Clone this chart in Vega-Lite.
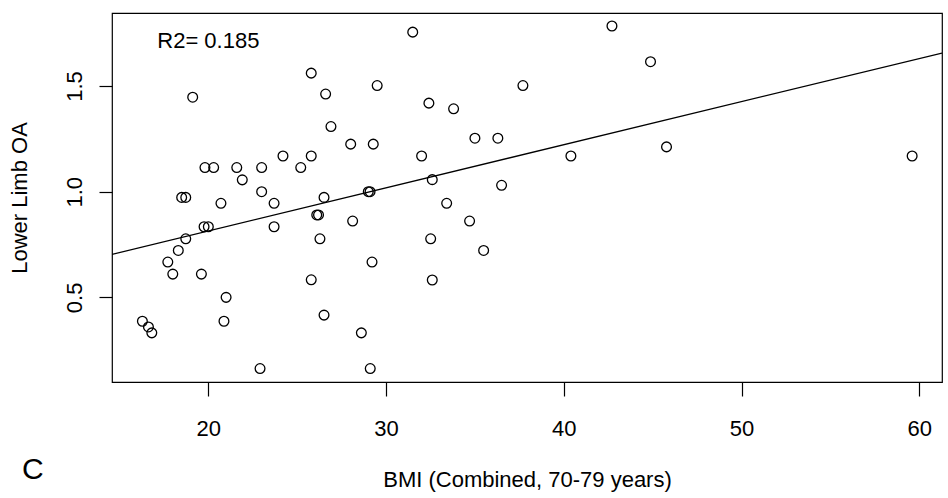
{
  "$schema": "https://vega.github.io/schema/vega-lite/v6.json",
  "width": 830,
  "height": 369,
  "autosize": {"type": "none"},
  "padding": {"left": 112, "top": 13, "right": 6, "bottom": 116},
  "background": "white",
  "config": {
    "font": "Liberation Sans",
    "view": {"stroke": "black", "strokeWidth": 1.2},
    "axis": {
      "domain": false,
      "grid": false,
      "tickColor": "black",
      "tickWidth": 1.2,
      "labelColor": "black",
      "titleColor": "black",
      "labelFontSize": 22,
      "titleFontSize": 22,
      "titleFontWeight": "normal",
      "labelFont": "Liberation Sans",
      "titleFont": "Liberation Sans"
    }
  },
  "data": {
    "values": [
      {"bmi": 31.5, "oa": 1.755},
      {"bmi": 25.79, "oa": 1.561},
      {"bmi": 19.12, "oa": 1.447},
      {"bmi": 26.6, "oa": 1.462},
      {"bmi": 29.5, "oa": 1.502},
      {"bmi": 26.9, "oa": 1.308},
      {"bmi": 28.01, "oa": 1.225},
      {"bmi": 29.28, "oa": 1.225},
      {"bmi": 32.0, "oa": 1.169},
      {"bmi": 24.2, "oa": 1.169},
      {"bmi": 25.79, "oa": 1.169},
      {"bmi": 19.81, "oa": 1.114},
      {"bmi": 20.3, "oa": 1.114},
      {"bmi": 21.6, "oa": 1.114},
      {"bmi": 23.0, "oa": 1.114},
      {"bmi": 25.2, "oa": 1.114},
      {"bmi": 21.91, "oa": 1.056},
      {"bmi": 23.0, "oa": 1.0},
      {"bmi": 29.0, "oa": 1.0},
      {"bmi": 29.1, "oa": 1.0},
      {"bmi": 26.51, "oa": 0.973},
      {"bmi": 18.5, "oa": 0.973},
      {"bmi": 18.73, "oa": 0.973},
      {"bmi": 20.71, "oa": 0.945},
      {"bmi": 23.7, "oa": 0.945},
      {"bmi": 26.1, "oa": 0.89},
      {"bmi": 26.2, "oa": 0.89},
      {"bmi": 28.12, "oa": 0.861},
      {"bmi": 19.76, "oa": 0.834},
      {"bmi": 20.0, "oa": 0.834},
      {"bmi": 23.7, "oa": 0.834},
      {"bmi": 26.28, "oa": 0.777},
      {"bmi": 18.73, "oa": 0.777},
      {"bmi": 18.31, "oa": 0.722},
      {"bmi": 17.72, "oa": 0.667},
      {"bmi": 18.0, "oa": 0.61},
      {"bmi": 19.61, "oa": 0.61},
      {"bmi": 29.21, "oa": 0.667},
      {"bmi": 25.79, "oa": 0.583},
      {"bmi": 21.0, "oa": 0.5},
      {"bmi": 20.88, "oa": 0.387},
      {"bmi": 26.51, "oa": 0.416},
      {"bmi": 28.61, "oa": 0.332},
      {"bmi": 16.29, "oa": 0.387},
      {"bmi": 16.63, "oa": 0.36},
      {"bmi": 16.82, "oa": 0.332},
      {"bmi": 22.91, "oa": 0.163},
      {"bmi": 29.11, "oa": 0.163},
      {"bmi": 42.71, "oa": 1.784},
      {"bmi": 44.88, "oa": 1.615},
      {"bmi": 37.7, "oa": 1.502},
      {"bmi": 32.41, "oa": 1.419},
      {"bmi": 33.8, "oa": 1.392},
      {"bmi": 35.0, "oa": 1.253},
      {"bmi": 36.29, "oa": 1.253},
      {"bmi": 40.4, "oa": 1.169},
      {"bmi": 45.78, "oa": 1.212},
      {"bmi": 32.6, "oa": 1.057},
      {"bmi": 36.5, "oa": 1.03},
      {"bmi": 33.41, "oa": 0.945},
      {"bmi": 34.7, "oa": 0.861},
      {"bmi": 32.51, "oa": 0.777},
      {"bmi": 35.49, "oa": 0.722},
      {"bmi": 32.6, "oa": 0.582},
      {"bmi": 59.6, "oa": 1.169}
    ]
  },
  "layer": [
    {
      "mark": {"type": "point", "shape": "circle", "filled": false, "stroke": "black", "strokeWidth": 1.3, "size": 95, "opacity": 1},
      "encoding": {
        "x": {
          "field": "bmi", "type": "quantitative",
          "scale": {"domain": [14.58, 61.28], "nice": false, "zero": false},
          "axis": {"values": [20, 30, 40, 50, 60], "tickSize": 14, "labelPadding": 22, "title": "BMI (Combined, 70-79 years)", "titlePadding": 30}
        },
        "y": {
          "field": "oa", "type": "quantitative",
          "scale": {"domain": [0.0995, 1.8455], "nice": false, "zero": false},
          "axis": {"values": [0.5, 1.0, 1.5], "format": ".1f", "tickSize": 13, "labelPadding": 18, "labelAngle": 270, "labelAlign": "center", "labelBaseline": "alphabetic", "title": "Lower Limb OA", "titlePadding": 32}
        }
      }
    },
    {
      "transform": [{"regression": "oa", "on": "bmi", "extent": [14.58, 61.28]}],
      "mark": {"type": "line", "color": "black", "strokeWidth": 1.3, "clip": true},
      "encoding": {
        "x": {"field": "bmi", "type": "quantitative"},
        "y": {"field": "oa", "type": "quantitative"}
      }
    },
    {
      "data": {"values": [{"label": "R2= 0.185"}]},
      "mark": {"type": "text", "fontSize": 22, "align": "center", "baseline": "middle", "font": "Liberation Sans", "color": "black"},
      "encoding": {"text": {"field": "label"}, "x": {"datum": 20}, "y": {"datum": 1.713}}
    },
    {
      "data": {"values": [{"label": "C"}]},
      "mark": {"type": "text", "fontSize": 30, "align": "center", "baseline": "middle", "font": "Liberation Sans", "color": "black"},
      "encoding": {"text": {"field": "label"}, "x": {"datum": 10.12}, "y": {"datum": -0.319}}
    }
  ]
}
